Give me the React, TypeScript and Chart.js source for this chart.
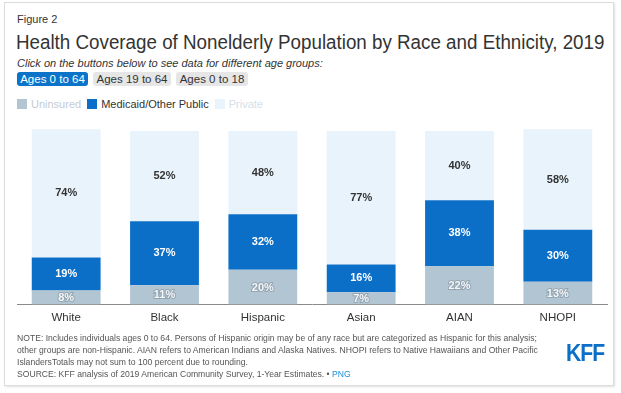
import React, { useEffect, useRef } from "react";
import { Chart, registerables } from "chart.js";

Chart.register(...registerables);

const categories = ["White", "Black", "Hispanic", "Asian", "AIAN", "NHOPI"];
const uninsured = [8, 11, 20, 7, 22, 13];
const medicaid = [19, 37, 32, 16, 38, 30];
const privateCov = [74, 52, 48, 77, 40, 58];
const seriesNames = ["Uninsured", "Medicaid/Other Public", "Private"];
const ageButtons = ["Ages 0 to 64", "Ages 19 to 64", "Ages 0 to 18"];
const noteLines = [
  "NOTE: Includes individuals ages 0 to 64. Persons of Hispanic origin may be of any race but are categorized as Hispanic for this analysis;",
  "other groups are non-Hispanic. AIAN refers to American Indians and Alaska Natives. NHOPI refers to Native Hawaiians and Other Pacific",
  "IslandersTotals may not sum to 100 percent due to rounding.",
];
const sourceLine = "SOURCE: KFF analysis of 2019 American Community Survey, 1-Year Estimates. \u2022 ";

const FONT = '"Liberation Sans", Arial, Helvetica, sans-serif';
const C_UNINS = "#b2c5d2";
const C_MED = "#0b6fc8";
const C_PRIV = "#e8f3fb";

const labelPlugin = {
  id: "barLabels",
  afterDatasetsDraw(chart: any) {
    const ctx = chart.ctx;
    ctx.save();
    ctx.font = `bold 11px ${FONT}`;
    ctx.textAlign = "center";
    ctx.textBaseline = "middle";
    chart.data.datasets.forEach((ds: any, di: number) => {
      const meta = chart.getDatasetMeta(di);
      meta.data.forEach((el: any, i: number) => {
        const v = ds.data[i];
        const y = (el.y + el.base) / 2;
        const txt = v + "%";
        if (di === 0) {
          ctx.lineWidth = 2;
          ctx.strokeStyle = "rgba(120,135,145,0.5)";
          ctx.strokeText(txt, el.x, y + 0.5);
          ctx.fillStyle = "#f4f6f8";
          ctx.fillText(txt, el.x, y + 0.5);
        } else if (di === 1) {
          ctx.fillStyle = "#ffffff";
          ctx.fillText(txt, el.x, y);
        } else {
          ctx.fillStyle = "#333333";
          ctx.fillText(txt, el.x, y);
        }
      });
    });
    ctx.restore();
  },
};

function BarChart() {
  const ref = useRef<HTMLCanvasElement | null>(null);
  useEffect(() => {
    if (!ref.current) return;
    const chart = new Chart(ref.current, {
      type: "bar",
      data: {
        labels: categories,
        datasets: [
          { label: seriesNames[0], data: uninsured, backgroundColor: C_UNINS },
          { label: seriesNames[1], data: medicaid, backgroundColor: C_MED },
          { label: seriesNames[2], data: privateCov, backgroundColor: C_PRIV },
        ],
      },
      options: {
        animation: false,
        responsive: true,
        maintainAspectRatio: false,
        datasets: { bar: { categoryPercentage: 0.7, barPercentage: 1.0 } },
        layout: { padding: { left: 17, right: 14, top: 13.4, bottom: 8.8 } },
        plugins: { legend: { display: false }, tooltip: { enabled: false } },
        scales: {
          x: {
            stacked: true,
            grid: { display: false, drawTicks: false },
            border: { display: true, color: "#8a8a8a", width: 1 },
            ticks: { color: "#333", font: { family: FONT, size: 11.5 }, padding: 7 },
          },
          y: { stacked: true, display: false, min: 0, max: 101.5 },
        },
      },
      plugins: [labelPlugin],
    });
    return () => chart.destroy();
  }, []);
  return <canvas ref={ref} />;
}

export default function App() {
  const legendColors = [C_UNINS, C_MED, C_PRIV];
  const legendText = ["#c3ccd3", "#333333", "#d3e0ea"];
  const btnLeft = [17, 93, 176];
  const btnW = [71, 78, 72];
  return (
    <div style={{ position: "absolute", left: 0, top: 0, width: 621, height: 393, background: "#fff", fontFamily: FONT, overflow: "hidden" }}>
      <div style={{ position: "absolute", left: 4, top: 2, width: 608, height: 382, border: "1px solid #dcdcdc", boxShadow: "1px 1px 2px rgba(0,0,0,0.12)" }} />
      <div style={{ position: "absolute", left: 17, top: 13, fontSize: 11, color: "#333" }}>Figure 2</div>
      <div style={{ position: "absolute", left: 16, top: 31, fontSize: 20, color: "#333", whiteSpace: "nowrap", transform: "scaleX(0.939)", transformOrigin: "left" }}>
        Health Coverage of Nonelderly Population by Race and Ethnicity, 2019
      </div>
      <div style={{ position: "absolute", left: 17, top: 57, fontSize: 11, fontStyle: "italic", color: "#333", whiteSpace: "nowrap" }}>
        Click on the buttons below to see data for different age groups:
      </div>
      {ageButtons.map((b, i) => (
        <div key={b} style={{ position: "absolute", left: btnLeft[i], top: 72, width: btnW[i], height: 14, lineHeight: "14px", textAlign: "center", fontSize: 11.5, borderRadius: 3, background: i === 0 ? "#0b74c9" : "#e6e6e6", color: i === 0 ? "#fff" : "#333", whiteSpace: "nowrap" }}>
          {b}
        </div>
      ))}
      <div style={{ position: "absolute", left: 17, top: 98, display: "flex", alignItems: "center", fontSize: 11 }}>
        {seriesNames.map((n, i) => (
          <div key={n} style={{ display: "flex", alignItems: "center", marginRight: 6 }}>
            <div style={{ width: 10, height: 10, background: legendColors[i], marginRight: 4 }} />
            <span style={{ color: legendText[i], whiteSpace: "nowrap" }}>{n}</span>
          </div>
        ))}
      </div>
      <div style={{ position: "absolute", left: 0, top: 115, width: 621, height: 226 }}>
        <BarChart />
      </div>
      <div style={{ position: "absolute", left: 17, top: 332, fontSize: 9.5, lineHeight: "12px", color: "#555", whiteSpace: "nowrap", transform: "scaleX(0.905)", transformOrigin: "left" }}>
        {noteLines.map((l) => (
          <div key={l}>{l}</div>
        ))}
        <div>
          {sourceLine}
          <span style={{ color: "#1a8fd6" }}>PNG</span>
        </div>
      </div>
      <div style={{ position: "absolute", left: 566, top: 340, fontSize: 23, fontWeight: "bold", color: "#0b6fc8", letterSpacing: -1, transform: "scaleX(0.92)", transformOrigin: "left" }}>KFF</div>
    </div>
  );
}
